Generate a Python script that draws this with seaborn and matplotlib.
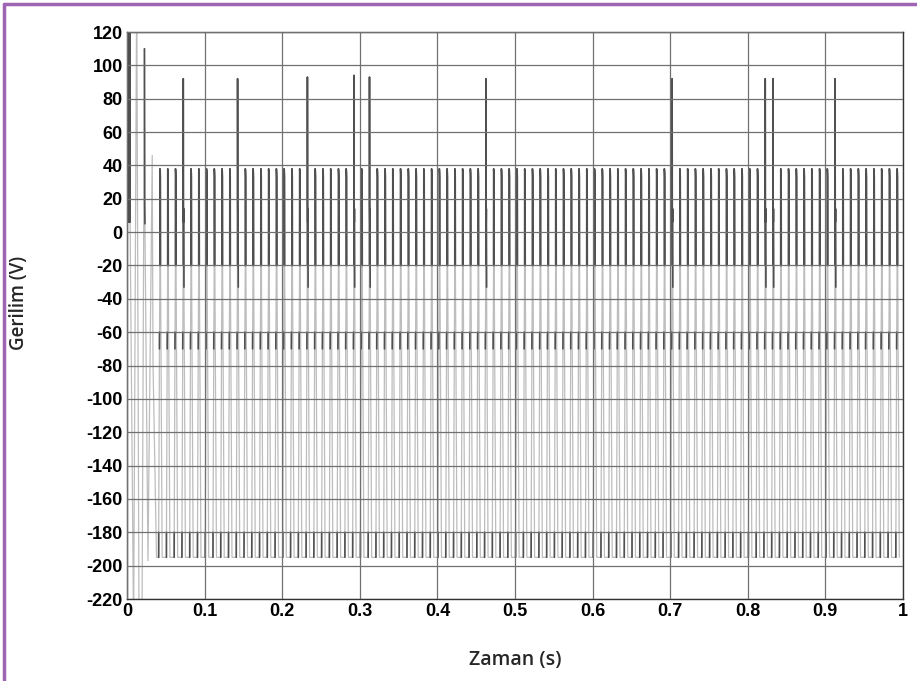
import numpy as np
import pandas as pd
import matplotlib
matplotlib.use("Agg")
import matplotlib.pyplot as plt
from matplotlib.lines import Line2D
import seaborn as sns

# ---- signal description -------------------------------------------------
period = 0.01          # switching period (s)
first_peak = 0.0425    # first regular cycle peak (s)
last_peak = 0.9925     # last regular cycle peak (s)

# one regular cycle around its peak: offsets (s), voltage (V),
# and whether the segment leaving each point is drawn dark
cycle_offsets = [-0.0017, -0.00165, -0.0007, -0.0006, -0.0001, 0.0, 0.0003, 0.0005, 0.0007, 0.0028]
cycle_volts = [-195, -180, -70, -60, -20, 38, 36, 33, -20, -195]
cycle_dark = [1, 0, 1, 0, 1, 1, 1, 1, 0, 0]

# cycles with an overshoot peak
spike_times = [0.0725, 0.1425, 0.2325, 0.2925, 0.3125, 0.4625, 0.7025, 0.8225, 0.8325, 0.9125]
spike_peaks = [92, 92, 93, 94, 93, 92, 92, 92, 92, 92]
spike_offsets = [-0.0017, -0.00165, -0.0007, -0.0006, -0.0001, 0.0, 0.0002, 0.0004, 0.0006, 0.0009, 0.0028]
spike_lead = [-195, -180, -70, -60, -20]
spike_tail = [16, 6, 14, -33, -195]
spike_dark = [1, 0, 1, 0, 1, 1, 1, 1, 1, 0, 0]

# start-up transient
start_t = [0.0000, 0.0005, 0.0010, 0.0015, 0.0020, 0.0025, 0.0030, 0.0035, 0.0040,
           0.0085, 0.0125, 0.0155, 0.0193, 0.0225, 0.0228, 0.0231, 0.0270,
           0.0325, 0.0335, 0.0380]
start_v = [6, 150, 6, 150, 6, 150, 6, 150, 6,
           -240, 150, -240, -240, 110, 17, 5, -197,
           46, -78, -195]
start_dark = [1, 1, 1, 1, 1, 1, 1, 1, 0,
              0, 0, 0, 0, 1, 1, 0, 0,
              0, 0, 0]

x_ticks = [0, 0.1, 0.2, 0.3, 0.4, 0.5, 0.6, 0.7, 0.8, 0.9, 1]
x_tick_labels = ["0", "0.1", "0.2", "0.3", "0.4", "0.5", "0.6", "0.7", "0.8", "0.9", "1"]
y_ticks = list(range(-220, 121, 20))

# ---- build the trace ----------------------------------------------------
t_all = list(start_t)
v_all = list(start_v)
d_all = list(start_dark)
spike_map = dict(zip(np.round(spike_times, 4), spike_peaks))
n = int(round((last_peak - first_peak) / period)) + 1
for k in range(n):
    tp = round(first_peak + k * period, 4)
    if tp in spike_map:
        offs = spike_offsets
        vals = spike_lead + [spike_map[tp]] + spike_tail
        dark = spike_dark
    else:
        offs, vals, dark = cycle_offsets, cycle_volts, cycle_dark
    t_all += [tp + o for o in offs]
    v_all += vals
    d_all += dark

trace = pd.DataFrame({"t": t_all, "v": v_all})

# dark overlay: runs of consecutive dark segments
rows = []
seg = -1
prev_dark = False
for i in range(len(t_all) - 1):
    if d_all[i]:
        if not prev_dark:
            seg += 1
            rows.append((t_all[i], v_all[i], seg))
        rows.append((t_all[i + 1], v_all[i + 1], seg))
    prev_dark = bool(d_all[i])
dark_df = pd.DataFrame(rows, columns=["t", "v", "seg"])

# ---- figure -------------------------------------------------------------
sns.set_theme(style="white")
plt.rcParams["font.family"] = ["Liberation Sans", "DejaVu Sans"]
plt.rcParams["axes.unicode_minus"] = False

fig = plt.figure(figsize=(9.17, 6.81), dpi=100)
ax = fig.add_axes([0.1385, 0.1204, 0.8462, 0.8326])

sns.lineplot(data=trace, x="t", y="v", sort=False, estimator=None,
             color="#bdbdbd", linewidth=0.9, ax=ax)
sns.lineplot(data=dark_df, x="t", y="v", units="seg", sort=False, estimator=None,
             color="#505050", linewidth=1.2, ax=ax)

ax.set_xlim(0, 1)
ax.set_ylim(-220, 120)
ax.set_xticks(x_ticks)
ax.set_xticklabels(x_tick_labels)
ax.set_yticks(y_ticks)
ax.grid(True, color="#707070", linewidth=0.9)
ax.set_axisbelow(False)
ax.set_xlabel("")
ax.set_ylabel("")
for sp in ax.spines.values():
    sp.set_color("#333333")
    sp.set_linewidth(1.0)
ax.tick_params(direction="in", length=4, width=0.8, colors="#333333",
               labelsize=13, labelcolor="black", pad=3)
for lab in ax.get_xticklabels() + ax.get_yticklabels():
    lab.set_fontweight("bold")

fig.text(0.5616, 0.031, "Zaman (s)", ha="center", va="center",
         fontsize=14, fontweight="semibold", family=["Open Sans", "DejaVu Sans"])
fig.text(0.021, 0.555, "Gerilim (V)", ha="center", va="center", rotation=90,
         fontsize=13.5, fontweight="semibold", family=["Open Sans", "DejaVu Sans"])

# page frame on the left and top edges
fig.add_artist(Line2D([0.0045, 0.0045], [0, 0.994], transform=fig.transFigure,
                      color="#a064b4", linewidth=2.5))
fig.add_artist(Line2D([0.0045, 1.0], [0.994, 0.994], transform=fig.transFigure,
                      color="#a064b4", linewidth=2.5))

fig.savefig("out.png", dpi=100)
